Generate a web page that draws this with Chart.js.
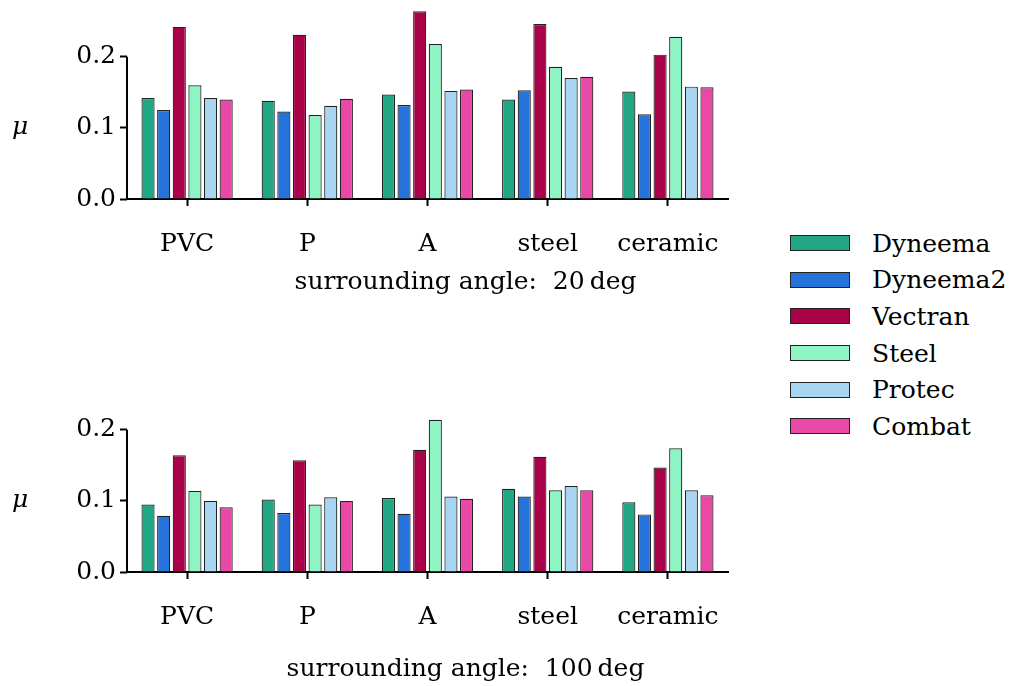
<!DOCTYPE html>
<html>
<head>
<meta charset="utf-8">
<script src="https://cdn.jsdelivr.net/npm/chart.js@4"></script>
<style>
  body { margin: 0; background: #fff; }
  #wrap { position: relative; width: 1013px; height: 686px; overflow: hidden; }
  canvas { position: absolute; left: 0; }
  #legend { position: absolute; left: 790px; top: 225px; font-family: "DejaVu Serif", serif; font-size: 25px; }
  .row { display: flex; align-items: center; height: 36.6px; }
  .box { width: 58px; height: 14px; border: 1.5px solid #222; margin-right: 22px; }
</style>
</head>
<body>
<div id="wrap">
  <canvas id="chartTop" width="760" height="300" style="top:0px"></canvas>
  <canvas id="chartBottom" width="760" height="313" style="top:373px"></canvas>
  <div id="legend"></div>
</div>
<script>
// === Data ===
const categories = ["PVC", "P", "A", "steel", "ceramic"];
const seriesNames = ["Dyneema", "Dyneema2", "Vectran", "Steel", "Protec", "Combat"];
const seriesColors = ["#21a783", "#2573db", "#a90249", "#8ef4c3", "#a7d5f2", "#ea48a6"];
const yTicks = [0, 0.1, 0.2];

// surrounding angle 20 deg
const dyneema20  = [0.142, 0.138, 0.147, 0.140, 0.151];
const dyneema2_20 = [0.125, 0.123, 0.132, 0.153, 0.119];
const vectran20  = [0.242, 0.231, 0.264, 0.246, 0.203];
const steel20    = [0.160, 0.118, 0.218, 0.186, 0.228];
const protec20   = [0.142, 0.131, 0.152, 0.170, 0.158];
const combat20   = [0.140, 0.141, 0.154, 0.172, 0.157];

// surrounding angle 100 deg
const dyneema100  = [0.095, 0.102, 0.104, 0.117, 0.098];
const dyneema2_100 = [0.079, 0.083, 0.082, 0.106, 0.081];
const vectran100  = [0.164, 0.157, 0.172, 0.162, 0.147];
const steel100    = [0.114, 0.095, 0.214, 0.115, 0.174];
const protec100   = [0.100, 0.105, 0.106, 0.121, 0.115];
const combat100   = [0.091, 0.100, 0.103, 0.115, 0.108];

const FONT = "'DejaVu Serif', serif";
const FSIZE = 25;
const AXIS_Y = 199; // x axis position inside each canvas

// y spine only between first and last tick, mu label, x title
const spinePlugin = {
  id: "spine",
  afterDraw(chart, args, opts) {
    const ctx = chart.ctx;
    const y = chart.scales.y;
    const area = chart.chartArea;
    const yA = y.getPixelForValue(yTicks[0]);
    const yB = y.getPixelForValue(yTicks[yTicks.length - 1]);
    ctx.save();
    ctx.strokeStyle = "#000";
    ctx.lineWidth = 2;
    ctx.beginPath();
    ctx.moveTo(area.left, yA + 1);
    ctx.lineTo(area.left, yB);
    ctx.stroke();
    ctx.fillStyle = "#000";
    ctx.textAlign = "center";
    ctx.textBaseline = "middle";
    ctx.font = "italic " + FSIZE + "px " + FONT;
    ctx.fillText("\u03bc", 20, (yA + yB) / 2);
    ctx.font = FSIZE + "px " + FONT;
    ctx.fillText(opts.title, (area.left + area.right) / 2 + 38, yA + opts.titleOffset);
    ctx.restore();
  }
};

function makeChart(id, values, title, titleOffset) {
  new Chart(document.getElementById(id), {
    type: "bar",
    data: {
      labels: categories,
      datasets: seriesNames.map((name, i) => ({
        label: name,
        data: values[i],
        backgroundColor: seriesColors[i],
        borderColor: "#222",
        borderWidth: 1.2,
        categoryPercentage: 0.78,
        barPercentage: 0.84,
      })),
    },
    options: {
      responsive: false,
      animation: false,
      devicePixelRatio: 1,
      layout: { padding: { top: 2, right: 32, left: 0, bottom: 0 } },
      plugins: {
        legend: { display: false },
        tooltip: { enabled: false },
        spine: { title: title, titleOffset: titleOffset },
      },
      scales: {
        x: {
          grid: { display: true, drawOnChartArea: false, offset: false, tickLength: 7, tickColor: "#000", tickWidth: 2 },
          border: { display: true, color: "#000", width: 2 },
          ticks: { color: "#000", font: { family: FONT, size: FSIZE }, padding: 23, maxRotation: 0 },
          afterFit(scale) {
            scale.height = scale.chart.height - AXIS_Y;
            scale.paddingLeft = 0;
            scale.paddingRight = 0;
          },
        },
        y: {
          min: 0,
          max: 0.277,
          afterBuildTicks(scale) { scale.ticks = yTicks.map(v => ({ value: v })); },
          grid: { display: true, drawOnChartArea: false, tickLength: 7, tickColor: "#000", tickWidth: 2 },
          border: { display: false },
          ticks: { color: "#000", font: { family: FONT, size: FSIZE }, padding: 4, callback: v => v.toFixed(1) },
          afterFit(scale) {
            scale.width = 127;
            scale.paddingTop = 0;
            scale.paddingBottom = 0;
          },
        },
      },
    },
    plugins: [spinePlugin],
  });
}

makeChart("chartTop", [dyneema20, dyneema2_20, vectran20, steel20, protec20, combat20], "surrounding angle:  20\u2009deg", 83);
makeChart("chartBottom", [dyneema100, dyneema2_100, vectran100, steel100, protec100, combat100], "surrounding angle:  100\u2009deg", 97);

// legend
const legend = document.getElementById("legend");
seriesNames.forEach((name, i) => {
  const row = document.createElement("div");
  row.className = "row";
  const box = document.createElement("div");
  box.className = "box";
  box.style.background = seriesColors[i];
  const label = document.createElement("span");
  label.textContent = name;
  row.appendChild(box);
  row.appendChild(label);
  legend.appendChild(row);
});
</script>
</body>
</html>
